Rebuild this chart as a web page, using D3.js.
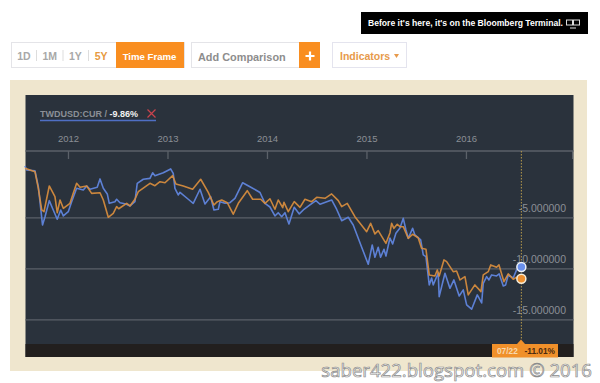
<!DOCTYPE html>
<html>
<head>
<title>TWDUSD:CUR</title>
<style>
  body { margin: 0; background: #fff; }
  svg { display: block; font-family: "Liberation Sans", sans-serif; }
  .btn { font-size: 10.5px; font-weight: bold; }
  .axis path { display: none; }
  .axis text { fill: #8a8f96; font-size: 10px; font-family: "Liberation Sans", sans-serif; }
  .axis line { stroke: #5b6169; stroke-width: 1.3; }
</style>
</head>
<body>
<svg id="chart" width="600" height="383"></svg>
<script src="https://cdnjs.cloudflare.com/ajax/libs/d3/7.8.5/d3.min.js"></script>
<script>
// time is in decimal years
var blueTimes = [2011.568,2011.585,2011.668,2011.702,2011.744,2011.769,2011.812,2011.852,2011.892,2011.927,2011.953,2012.003,2012.037,2012.087,2012.154,2012.188,2012.221,2012.294,2012.322,2012.355,2012.395,2012.415,2012.472,2012.489,2012.523,2012.583,2012.623,2012.673,2012.696,2012.757,2012.824,2012.851,2012.874,2012.958,2013.032,2013.058,2013.075,2013.108,2013.126,2013.209,2013.259,2013.327,2013.377,2013.434,2013.467,2013.511,2013.528,2013.578,2013.628,2013.678,2013.756,2013.829,2013.930,2013.980,2014.030,2014.080,2014.113,2014.148,2014.181,2014.221,2014.274,2014.325,2014.365,2014.432,2014.492,2014.533,2014.650,2014.700,2014.751,2014.817,2014.867,2014.952,2015.018,2015.058,2015.085,2015.118,2015.142,2015.176,2015.196,2015.236,2015.263,2015.296,2015.337,2015.370,2015.397,2015.420,2015.464,2015.487,2015.545,2015.571,2015.598,2015.631,2015.655,2015.671,2015.721,2015.731,2015.789,2015.839,2015.879,2015.932,2015.973,2016.007,2016.057,2016.114,2016.158,2016.174,2016.208,2016.231,2016.258,2016.308,2016.334,2016.375,2016.399,2016.425,2016.475,2016.509,2016.557];
var blueValues = [0.04,-0.35,-0.42,-1.99,-5.74,-4.93,-3.36,-4.27,-5.18,-4.27,-4.86,-4.44,-3.46,-2.15,-2.31,-1.92,-2.24,-2.05,-1.23,-2.15,-2.70,-3.62,-3.46,-3.22,-3.56,-3.68,-3.88,-3.46,-1.66,-1.26,-1.17,-0.62,-0.91,-0.62,-0.25,-0.68,-2.15,-2.80,-2.54,-3.22,-3.62,-2.24,-3.68,-2.97,-4.27,-4.20,-3.46,-3.62,-3.56,-3.13,-1.60,-1.99,-2.56,-3.62,-3.98,-4.86,-4.54,-4.93,-4.54,-5.64,-4.01,-4.66,-4.27,-3.78,-3.36,-3.71,-3.29,-4.20,-5.32,-4.99,-5.74,-7.93,-9.59,-7.70,-8.91,-7.93,-8.91,-8.12,-8.78,-7.02,-7.60,-6.56,-6.04,-5.09,-6.23,-7.05,-6.07,-6.72,-7.21,-8.68,-8.85,-11.62,-10.94,-11.62,-10.45,-12.77,-10.48,-11.95,-11.13,-12.70,-12.11,-13.58,-14.00,-12.60,-13.39,-11.46,-10.81,-11.13,-10.64,-10.74,-10.54,-11.72,-11.62,-10.64,-10.94,-10.15,-9.86];

var orangeTimes = [2011.568,2011.668,2011.702,2011.736,2011.759,2011.812,2011.869,2011.892,2011.920,2011.953,2012.020,2012.053,2012.087,2012.121,2012.188,2012.238,2012.322,2012.355,2012.405,2012.455,2012.489,2012.510,2012.590,2012.623,2012.673,2012.707,2012.824,2012.874,2012.925,2012.975,2013.052,2013.085,2013.159,2013.253,2013.334,2013.410,2013.467,2013.501,2013.545,2013.601,2013.661,2013.712,2013.802,2013.856,2013.937,2013.980,2014.030,2014.080,2014.113,2014.158,2014.171,2014.214,2014.274,2014.332,2014.382,2014.449,2014.500,2014.583,2014.650,2014.717,2014.751,2014.807,2014.884,2015.002,2015.042,2015.085,2015.118,2015.196,2015.236,2015.253,2015.276,2015.309,2015.337,2015.370,2015.420,2015.464,2015.520,2015.554,2015.598,2015.631,2015.688,2015.712,2015.731,2015.779,2015.806,2015.872,2015.906,2015.940,2015.990,2016.023,2016.090,2016.151,2016.174,2016.224,2016.249,2016.308,2016.332,2016.382,2016.425,2016.475,2016.509,2016.557];
var orangeValues = [-0.19,-0.52,-2.15,-4.27,-4.44,-1.92,-2.97,-4.54,-3.29,-4.11,-3.62,-2.64,-1.66,-2.05,-1.92,-2.64,-2.58,-3.29,-4.99,-4.60,-3.95,-4.15,-3.62,-3.88,-3.22,-2.48,-1.66,-1.89,-1.50,-1.60,-0.91,-1.72,-1.92,-2.24,-1.26,-2.54,-3.78,-3.46,-3.29,-3.56,-4.69,-3.62,-2.38,-3.22,-3.22,-3.62,-3.17,-4.20,-3.29,-4.05,-3.52,-4.44,-3.46,-4.01,-3.22,-3.46,-3.03,-3.13,-2.70,-3.36,-3.95,-3.62,-4.93,-6.40,-5.58,-6.62,-6.30,-7.54,-6.53,-5.58,-6.07,-5.67,-5.91,-5.91,-7.05,-6.65,-6.99,-8.03,-8.12,-10.64,-10.74,-10.15,-10.74,-9.17,-9.34,-10.32,-10.25,-11.13,-10.81,-12.60,-11.62,-12.28,-10.64,-10.32,-9.66,-9.89,-9.66,-11.30,-10.54,-11.06,-10.87,-11.01];

var yearTicks = [2012, 2013, 2014, 2015, 2016];
var valueTicks = [-5, -10, -15];
var rangeLabels = ["1D", "1M", "1Y", "5Y"];

var plotLeft = 25.5, plotRight = 573.5, plotTop = 95, plotBottom = 357, axisY = 151;

var svg = d3.select("#chart");
var x = d3.scaleLinear().domain([2011.573, 2017.081]).range([plotLeft, plotRight]);
var y = d3.scaleLinear().domain([0, -15]).range([166.4, 319.4]);

// top banner
svg.append("rect").attr("x", 361).attr("y", 12).attr("width", 227).attr("height", 22).attr("fill", "#000");
svg.append("text").attr("x", 368).attr("y", 26).attr("fill", "#fff")
  .style("font-size", "8.6px").style("font-weight", "bold")
  .text("Before it's here, it's on the Bloomberg Terminal.");
svg.append("rect").attr("x", 566.5).attr("y", 20).attr("width", 6).attr("height", 5).attr("fill", "none").attr("stroke", "#ddd");
svg.append("rect").attr("x", 573.5).attr("y", 20).attr("width", 6).attr("height", 5).attr("fill", "none").attr("stroke", "#ddd");
svg.append("path").attr("d", "M570 28h6").attr("stroke", "#ddd");

// range buttons
svg.append("rect").attr("x", 11.5).attr("y", 42.5).attr("width", 173).attr("height", 25).attr("fill", "#fff").attr("stroke", "#e4e4e8");
svg.selectAll(".range").data(rangeLabels).enter().append("text")
  .attr("class", "btn")
  .attr("x", function(d, i) { return 24 + i * 25.7; })
  .attr("y", 59.5)
  .attr("text-anchor", "middle")
  .attr("fill", function(d) { return d == "5Y" ? "#e79a3f" : "#a8a8a8"; })
  .text(function(d) { return d; });
svg.selectAll(".sep").data([36.5, 63, 88.5]).enter().append("line")
  .attr("x1", function(d) { return d; }).attr("x2", function(d) { return d; })
  .attr("y1", 50).attr("y2", 61).attr("stroke", "#ddd");
svg.append("rect").attr("x", 116).attr("y", 42).attr("width", 68).attr("height", 26).attr("fill", "#f98e20");
svg.append("text").attr("x", 149.5).attr("y", 59.5).attr("text-anchor", "middle").attr("fill", "#fff")
  .style("font-size", "9.6px").style("font-weight", "bold").text("Time Frame");

svg.append("rect").attr("x", 191.5).attr("y", 42.5).attr("width", 108).attr("height", 25).attr("fill", "#fff").attr("stroke", "#e4e4e8");
svg.append("text").attr("x", 198).attr("y", 60.5).attr("fill", "#8d8d8d").style("font-size", "10.9px").style("font-weight", "bold").text("Add Comparison");
svg.append("rect").attr("x", 299).attr("y", 42).attr("width", 21).attr("height", 26).attr("fill", "#f98e20");
svg.append("path").attr("d", "M305.5 56h9M310 51.5v9").attr("stroke", "#fff").attr("stroke-width", 2.2);

svg.append("rect").attr("x", 332.5).attr("y", 42.5).attr("width", 74).attr("height", 25).attr("fill", "#fff").attr("stroke", "#e4e4ee");
svg.append("text").attr("class", "btn").attr("x", 340).attr("y", 59.5).attr("fill", "#e79a4b").text("Indicators");
svg.append("path").attr("d", "M394 54h5l-2.5 4z").attr("fill", "#e79a4b");

// chart frame
svg.append("rect").attr("x", 10).attr("y", 80).attr("width", 577).attr("height", 291).attr("fill", "#efe6ce");
svg.append("rect").attr("x", plotLeft).attr("y", plotTop).attr("width", plotRight - plotLeft).attr("height", plotBottom - plotTop).attr("fill", "#2a323c");
svg.append("rect").attr("x", plotLeft).attr("y", 344).attr("width", plotRight - plotLeft).attr("height", plotBottom - 344).attr("fill", "#221f1e");

// legend
var legend = svg.append("text").attr("x", 40).attr("y", 117).style("font-size", "9px").style("font-weight", "bold");
legend.append("tspan").attr("fill", "#8b8f96").text("TWDUSD:CUR / ");
legend.append("tspan").attr("fill", "#f2f2f2").text("-9.86%");
svg.append("line").attr("x1", 40).attr("x2", 156).attr("y1", 120.5).attr("y2", 120.5).attr("stroke", "#4f6fc4").attr("stroke-width", 1.3);
svg.append("path").attr("d", "M147.5 109.5l8 8M155.5 109.5l-8 8").attr("stroke", "#c9434d").attr("stroke-width", 1.2);

// axes
var xAxis = d3.axisBottom(x).tickValues(yearTicks).tickFormat(d3.format("d")).tickSize(8);
var gx = svg.append("g").attr("class", "axis").attr("transform", "translate(0," + axisY + ")").call(xAxis);
gx.selectAll("text").attr("y", -16).attr("dy", "0.71em").style("font-size", "9.5px");
svg.append("line").attr("x1", plotLeft).attr("x2", plotRight).attr("y1", axisY).attr("y2", axisY).attr("stroke", "#5b6169").attr("stroke-width", 1.3);
svg.append("line").attr("x1", 572.5).attr("x2", 572.5).attr("y1", axisY).attr("y2", axisY + 8).attr("stroke", "#5b6169");

var yAxis = d3.axisLeft(y).tickValues(valueTicks).tickFormat(function(d) { return d.toFixed(6); }).tickSize(plotRight - plotLeft);
var gy = svg.append("g").attr("class", "axis").attr("transform", "translate(" + plotRight + ",0)").call(yAxis);
gy.selectAll("text").attr("x", -7.5).attr("dy", "-0.55em").style("font-size", "10.5px");

// crosshair
svg.append("line").attr("x1", x(2016.557)).attr("x2", x(2016.557)).attr("y1", axisY).attr("y2", 340)
  .attr("stroke", "#b79a4c").attr("stroke-dasharray", "1.5,1.5");

// series
var line = d3.line()
  .x(function(d) { return x(d[0]); })
  .y(function(d) { return y(d[1]); });

svg.append("path").datum(d3.zip(blueTimes, blueValues))
  .attr("d", line).attr("fill", "none").attr("stroke", "#5d80d4").attr("stroke-width", 1.6).attr("stroke-linejoin", "round");
svg.append("path").datum(d3.zip(orangeTimes, orangeValues))
  .attr("d", line).attr("fill", "none").attr("stroke", "#d88d3e").attr("stroke-width", 1.6).attr("stroke-linejoin", "round").attr("opacity", 0.92);

// end markers
svg.append("circle").attr("cx", x(blueTimes[blueTimes.length - 1])).attr("cy", y(blueValues[blueValues.length - 1]))
  .attr("r", 4.5).attr("fill", "#6a90ec").attr("stroke", "#eef2f8").attr("stroke-width", 1.5);
svg.append("circle").attr("cx", x(orangeTimes[orangeTimes.length - 1])).attr("cy", y(orangeValues[orangeValues.length - 1]))
  .attr("r", 4.5).attr("fill", "#ee9030").attr("stroke", "#f6efdc").attr("stroke-width", 1.5);

// date tag
svg.append("rect").attr("x", 492).attr("y", 344).attr("width", 66).attr("height", 13.5).attr("fill", "#f0902a");
svg.append("path").attr("d", "M517 344l4-4.5l4 4.5z").attr("fill", "#f0902a");
svg.append("text").attr("x", 497).attr("y", 354.3).attr("fill", "#f6d9b0").style("font-size", "8.3px").style("font-weight", "bold").text("07/22");
svg.append("text").attr("x", 524.5).attr("y", 354.3).attr("fill", "#4a2a10").style("font-size", "8.3px").style("font-weight", "bold").text("-11.01%");

// watermark
svg.append("text").attr("x", 592).attr("y", 377).attr("text-anchor", "end")
  .attr("fill", "#f4f4f4").attr("stroke", "#8c8c8c").attr("stroke-width", 0.7)
  .style("font-family", "'Open Sans', sans-serif").style("font-size", "18.6px")
  .text("saber422.blogspot.com © 2016");
</script>
</body>
</html>
